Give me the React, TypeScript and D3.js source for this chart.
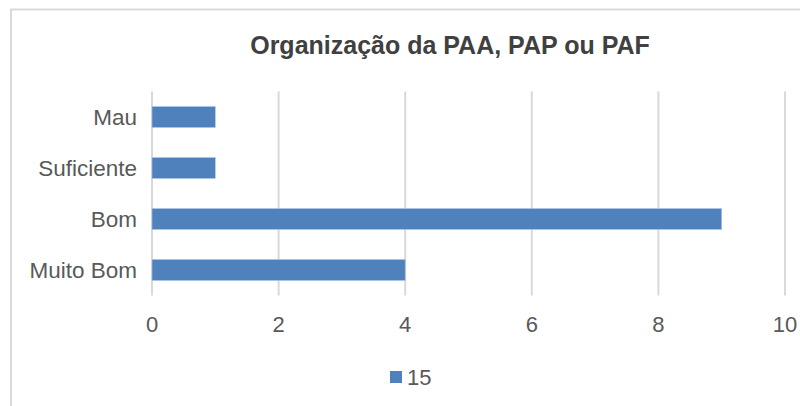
import React from "react";
import * as d3 from "d3";

const categories = ["Mau", "Suficiente", "Bom", "Muito Bom"];
const values = [1, 1, 9, 4];
const seriesName = "15";
const xTicks = [0, 2, 4, 6, 8, 10];
const title = "Organização da PAA, PAP ou PAF";

export default function App() {
  const W = 800, H = 406;
  const left = 152, right = 785, top = 91.5, bottom = 295.5;
  const x = d3.scaleLinear().domain([0, 10]).range([left, right]);
  const y = d3.scaleBand().domain(categories).range([top, bottom]).paddingInner(0.59).paddingOuter(0.295);
  const font = "'Liberation Sans', Arial, sans-serif";
  return (
    <svg width={W} height={H} style={{ position: "absolute", left: 0, top: 0 }}>
      <rect x={0} y={0} width={W} height={H} fill="#fff" />
      <rect x={11} y={9.5} width={W + 20} height={H + 20} fill="none" stroke="#d9d9d9" strokeWidth={2} />
      <text x={450} y={54} textAnchor="middle" fontFamily={font} fontWeight="bold" fontSize={25} fill="#404040">{title}</text>
      {xTicks.map((t) => (
        <line key={"g" + t} x1={x(t)} x2={x(t)} y1={top} y2={bottom} stroke="#d9d9d9" strokeWidth={2} />
      ))}
      {categories.map((c, i) => (
        <rect key={c} x={x(0)} y={y(c)!} width={x(values[i]) - x(0)} height={y.bandwidth()} fill="#4f81bd" stroke="#a9c4e6" strokeWidth={0.6} />
      ))}
      {categories.map((c) => (
        <text key={"l" + c} x={137} y={y(c)! + y.bandwidth() / 2} dy="0.36em" textAnchor="end" fontFamily={font} fontSize={22.5} fill="#595959">{c}</text>
      ))}
      {xTicks.map((t) => (
        <text key={"t" + t} x={x(t)} y={324} dy="0.36em" textAnchor="middle" fontFamily={font} fontSize={22} fill="#595959">{t}</text>
      ))}
      <rect x={390} y={371} width={12} height={12} fill="#4f81bd" />
      <text x={407} y={377} dy="0.36em" fontFamily={font} fontSize={22} fill="#595959">{seriesName}</text>
    </svg>
  );
}
